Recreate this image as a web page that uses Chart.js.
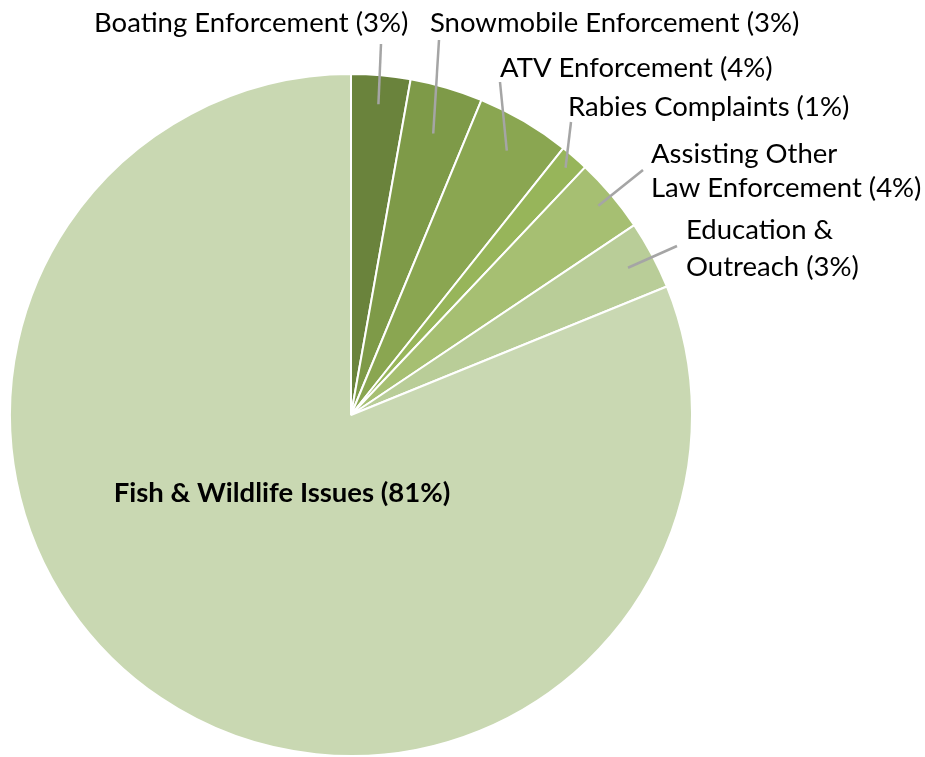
<!DOCTYPE html>
<html>
<head>
<meta charset="utf-8">
<script src="https://cdn.jsdelivr.net/npm/chart.js@4"></script>
<style>
  html, body { margin: 0; padding: 0; background: #fff; }
  #wrap { width: 925px; height: 757px; }
</style>
</head>
<body>
<div id="wrap"><canvas id="myChart"></canvas></div>
<script>
// chart data
const categories = ['Boating Enforcement', 'Snowmobile Enforcement', 'ATV Enforcement', 'Rabies Complaints',
    'Assisting Other Law Enforcement', 'Education & Outreach', 'Fish & Wildlife Issues']
const shares = [2.8, 3.45, 4.45, 1.35, 3.55, 3.25, 81.15]
const pctLabels = ['3%', '3%', '4%', '1%', '4%', '3%', '81%']
const sliceColors = ['#6a833c', '#7e9a48', '#8aa651', '#97b55a', '#a6bf72', '#b9cd98', '#c9d8b2']

// label placement (text lines, left x, centre y of each line), leader end point near text
const labelLayout = [
    { lines: ['Boating Enforcement (3%)'], x: 94, y: [23], tip: [381, 44], r: 0.915 },
    { lines: ['Snowmobile Enforcement (3%)'], x: 430, y: [23], tip: [439, 40], r: 0.86 },
    { lines: ['ATV Enforcement (4%)'], x: 500, y: [68], tip: [500, 82], r: 0.9 },
    { lines: ['Rabies Complaints (1%)'], x: 568, y: [107], tip: [571, 122], r: 0.96 },
    { lines: ['Assisting Other', 'Law Enforcement (4%)'], x: 651, y: [154, 188], tip: [643, 170], r: 0.95 },
    { lines: ['Education &', 'Outreach (3%)'], x: 686, y: [230, 267], tip: [677, 246], r: 0.92 },
]

const calloutPlugin = {
    id: 'callouts',
    afterDatasetsDraw(chart) {
        const ctx = chart.ctx
        const arcs = chart.getDatasetMeta(0).data
        ctx.save()
        ctx.textBaseline = 'middle'
        ctx.fillStyle = '#000'
        ctx.font = '27.5px Lato'

        labelLayout.forEach((lab, i) => {
            const a = arcs[i]
            const mid = (a.startAngle + a.endAngle) / 2
            const sx = a.x + Math.cos(mid) * a.outerRadius * lab.r
            const sy = a.y + Math.sin(mid) * a.outerRadius * lab.r
            ctx.strokeStyle = '#a5a5a5'
            ctx.lineWidth = 2.5
            ctx.beginPath()
            ctx.moveTo(sx, sy)
            ctx.lineTo(lab.tip[0], lab.tip[1])
            ctx.stroke()
            lab.lines.forEach((t, k) => ctx.fillText(t, lab.x, lab.y[k]))
        })

        // big slice label inside
        const last = arcs.length - 1
        ctx.font = 'bold 27.5px Lato'
        ctx.textAlign = 'center'
        ctx.fillText(categories[last] + ' (' + pctLabels[last] + ')', 282, 493)
        ctx.restore()
    }
}

const ctx = document.getElementById('myChart').getContext('2d')

const myChart = new Chart(ctx, {
    type: 'pie',
    data: {
        labels: categories,
        datasets: [{
            data: shares,
            backgroundColor: sliceColors,
            borderColor: '#ffffff',
            borderWidth: 2
        }]
    },
    options: {
        responsive: true,
        maintainAspectRatio: false,
        animation: false,
        layout: { padding: { top: 73, left: 9, bottom: 0, right: 232 } },
        plugins: {
            legend: { display: false },
            tooltip: { enabled: false }
        }
    },
    plugins: [calloutPlugin]
})
</script>
</body>
</html>
